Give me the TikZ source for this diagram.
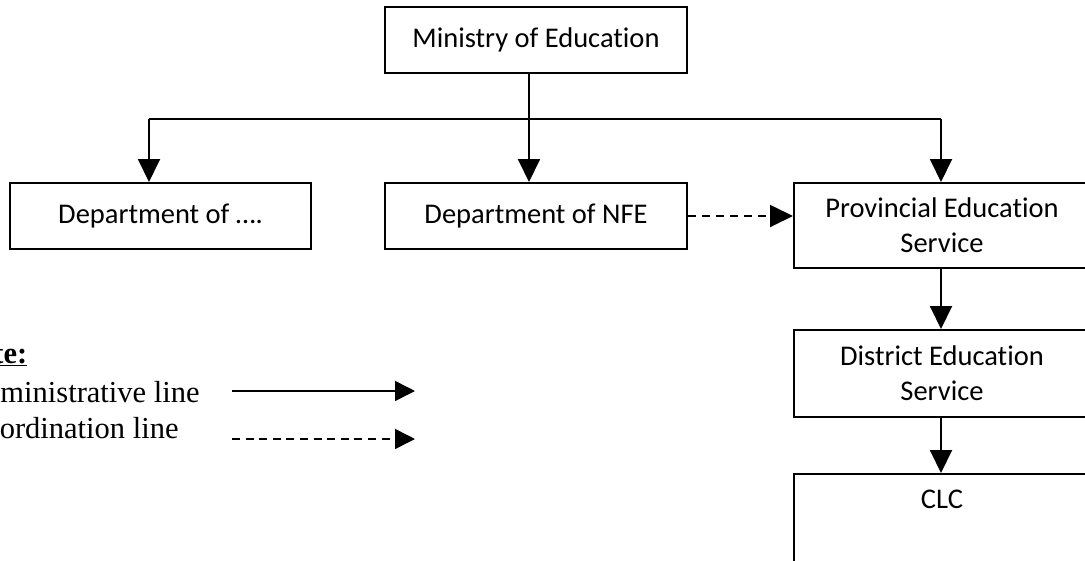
\documentclass[tikz,border=0pt]{standalone}
\usepackage{fontspec}
\setmainfont{Liberation Serif}
\newfontfamily\carl[Ligatures=NoCommon]{Carlito}
\usetikzlibrary{arrows.meta}
\begin{document}
\begin{tikzpicture}[x=1pt,y=-1pt,
  orgbox/.style={draw,line width=2pt,align=center,inner sep=0pt,
    font=\carl\fontsize{28.5}{35}\selectfont},
  mainarrow/.style={line width=2pt,-{Triangle[length=23pt,width=22pt]}},
  busline/.style={line width=1.5pt},
  legarrow/.style={line width=1.5pt,-{Triangle[length=20pt,width=20pt]}},
  legtext/.style={anchor=base west,inner sep=0pt,font=\fontsize{30.5}{36}\selectfont}
]
\useasboundingbox (0,0) rectangle (1085,560);

\node[orgbox,minimum width=302pt,minimum height=66pt] (min) at (536,40) {Ministry of Education};
\node[orgbox,minimum width=301pt,minimum height=66pt] (dep) at (160.5,216) {Department of ….};
\node[orgbox,minimum width=302pt,minimum height=66pt] (nfe) at (536,216) {Department of NFE};
\node[orgbox,minimum width=296pt,minimum height=85pt] (prov) at (942,225.5) {Provincial Education\\Service};
\node[orgbox,minimum width=296pt,minimum height=87pt] (dist) at (942,373.5) {District Education\\Service};
\node[orgbox,minimum width=296pt,minimum height=96pt] (clc) at (942,522) {CLC\\\strut};

\coordinate (busL) at (149,119);
\coordinate (busR) at (941,119);
\draw[busline] (busL) -- (busR);
\draw[mainarrow] ([xshift=-7pt]min.south) -- ([xshift=-7pt]nfe.north);
\draw[mainarrow] (busL) -- (busL |- dep.north);
\draw[mainarrow] (busR) -- (busR |- prov.north);
\draw[mainarrow] ([xshift=-1pt]prov.south) -- ([xshift=-1pt]dist.north);
\draw[mainarrow] ([xshift=-1pt]dist.south) -- ([xshift=-1pt]clc.north);
\draw[mainarrow,line width=1.8pt,dash pattern=on 8pt off 6pt] (nfe.east) -- (nfe.east -| prov.west);

\node[legtext] (note) at (-44,363) {\underline{\textbf{Note:}}};
\node[legtext] (adm) at (-37,402) {Administrative line};
\node[legtext] (coo) at (-36,438) {Coordination line};
\coordinate (a1) at (232,391);
\coordinate (a2) at (415,391);
\coordinate (c1) at (232,439);
\coordinate (c2) at (415,439);
\draw[legarrow] (a1) -- (a2);
\draw[legarrow,dash pattern=on 8pt off 5.6pt] (c1) -- (c2);
\end{tikzpicture}
\end{document}
